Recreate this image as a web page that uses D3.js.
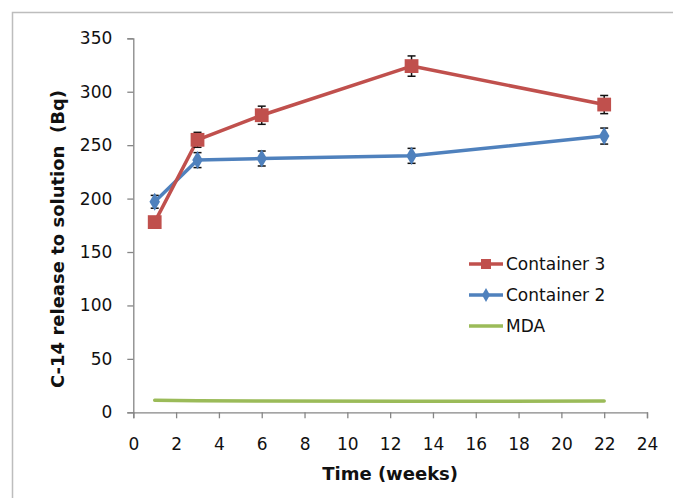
<!DOCTYPE html>
<html>
<head>
<meta charset="utf-8">
<script src="https://cdn.jsdelivr.net/npm/d3@7"></script>
<style>
  html, body { margin: 0; padding: 0; background: #fff; }
  svg text { font-family: "DejaVu Sans", sans-serif; fill: #111; }
</style>
</head>
<body>
<svg id="chart" width="673" height="498"></svg>
<script>
  // data
  const weeks = [1, 3, 6, 13, 22];
  const container3 = [178, 255, 278, 324, 288];
  const container3Err = [5, 7, 8.5, 9.5, 8.5];
  const container2 = [197, 236, 237.5, 240, 258.5];
  const container2Err = [6, 7, 7, 7, 7.5];
  const mda = [11.2, 10.8, 10.5, 10.4, 10.5];
  const xTicks = d3.range(0, 25, 2);
  const yTicks = d3.range(0, 351, 50);

  const RED = "#C0504D";
  const BLUE = "#4F81BD";
  const GREEN = "#9BBB59";
  const AXIS = "#868686";

  const svg = d3.select("#chart");

  // outer frame (only top and left edges are inside the picture)
  svg.append("rect")
    .attr("x", 12.5).attr("y", 12.5)
    .attr("width", 700).attr("height", 520)
    .attr("fill", "none").attr("stroke", "#bdbdbd").attr("stroke-width", 1.5);

  const x = d3.scaleLinear().domain([0, 24]).range([133.3, 647]);
  const y = d3.scaleLinear().domain([0, 350]).range([412.3, 38.3]);

  // axes
  const yAxis = svg.append("g")
    .attr("transform", `translate(${x(0)},0)`)
    .call(d3.axisLeft(y).tickValues(yTicks).tickSize(6).tickPadding(15));
  const xAxis = svg.append("g")
    .attr("transform", `translate(0,${y(0)})`)
    .call(d3.axisBottom(x).tickValues(xTicks).tickSize(6).tickPadding(20));

  [xAxis, yAxis].forEach(g => {
    g.select(".domain").attr("stroke", AXIS).attr("stroke-width", 1.3);
    g.selectAll(".tick line").attr("stroke", AXIS).attr("stroke-width", 1.3);
    g.selectAll(".tick text").attr("font-size", 17).attr("fill", "#111")
      .attr("font-family", "DejaVu Sans, sans-serif");
  });

  // axis titles
  svg.append("text")
    .attr("x", x(12)).attr("y", 473)
    .attr("text-anchor", "middle").attr("dominant-baseline", "central")
    .attr("font-size", 18).attr("font-weight", "bold")
    .text("Time (weeks)");

  svg.append("text")
    .attr("transform", "translate(57,239) rotate(-90)")
    .attr("text-anchor", "middle").attr("dominant-baseline", "central")
    .attr("font-size", 18).attr("font-weight", "bold")
    .style("white-space", "pre")
    .text("C-14 release to solution  (Bq)");

  const line = d3.line().x(d => x(d[0])).y(d => y(d[1]));

  // MDA line
  svg.append("path")
    .datum(d3.zip(weeks, mda))
    .attr("d", line)
    .attr("fill", "none").attr("stroke", GREEN).attr("stroke-width", 3.5)
    .attr("stroke-linecap", "round");

  function drawSeries(values, errs, color, shape, size) {
    const pts = d3.zip(weeks, values, errs);
    svg.append("path")
      .datum(pts)
      .attr("d", line)
      .attr("fill", "none").attr("stroke", color).attr("stroke-width", 3.5)
      .attr("stroke-linejoin", "round");

    const eb = svg.append("g").attr("stroke", "#111").attr("stroke-width", 1.5);
    pts.forEach(([w, v, e]) => {
      eb.append("line")
        .attr("x1", x(w)).attr("x2", x(w))
        .attr("y1", y(v - e)).attr("y2", y(v + e));
      [v - e, v + e].forEach(c => {
        eb.append("line")
          .attr("x1", x(w) - 4).attr("x2", x(w) + 4)
          .attr("y1", y(c)).attr("y2", y(c));
      });
    });

    svg.append("g").selectAll("path")
      .data(pts)
      .join("path")
      .attr("transform", d => `translate(${x(d[0])},${y(d[1])})`)
      .attr("d", d3.symbol().type(shape).size(size))
      .attr("fill", color);
  }

  drawSeries(container2, container2Err, BLUE, d3.symbolDiamond, 95);
  drawSeries(container3, container3Err, RED, d3.symbolSquare, 190);

  // legend
  const legendItems = [
    { label: "Container 3", color: RED, shape: d3.symbolSquare, size: 100 },
    { label: "Container 2", color: BLUE, shape: d3.symbolDiamond, size: 55 },
    { label: "MDA", color: GREEN, shape: null }
  ];
  const legend = svg.append("g");
  legendItems.forEach((item, i) => {
    const ly = 264 + i * 31;
    legend.append("line")
      .attr("x1", 469).attr("x2", 503).attr("y1", ly).attr("y2", ly)
      .attr("stroke", item.color).attr("stroke-width", 3.5);
    if (item.shape) {
      legend.append("path")
        .attr("transform", `translate(486,${ly})`)
        .attr("d", d3.symbol().type(item.shape).size(item.size))
        .attr("fill", item.color);
    }
    legend.append("text")
      .attr("x", 506).attr("y", ly)
      .attr("dominant-baseline", "central")
      .attr("font-size", 17)
      .text(item.label);
  });
</script>
</body>
</html>
